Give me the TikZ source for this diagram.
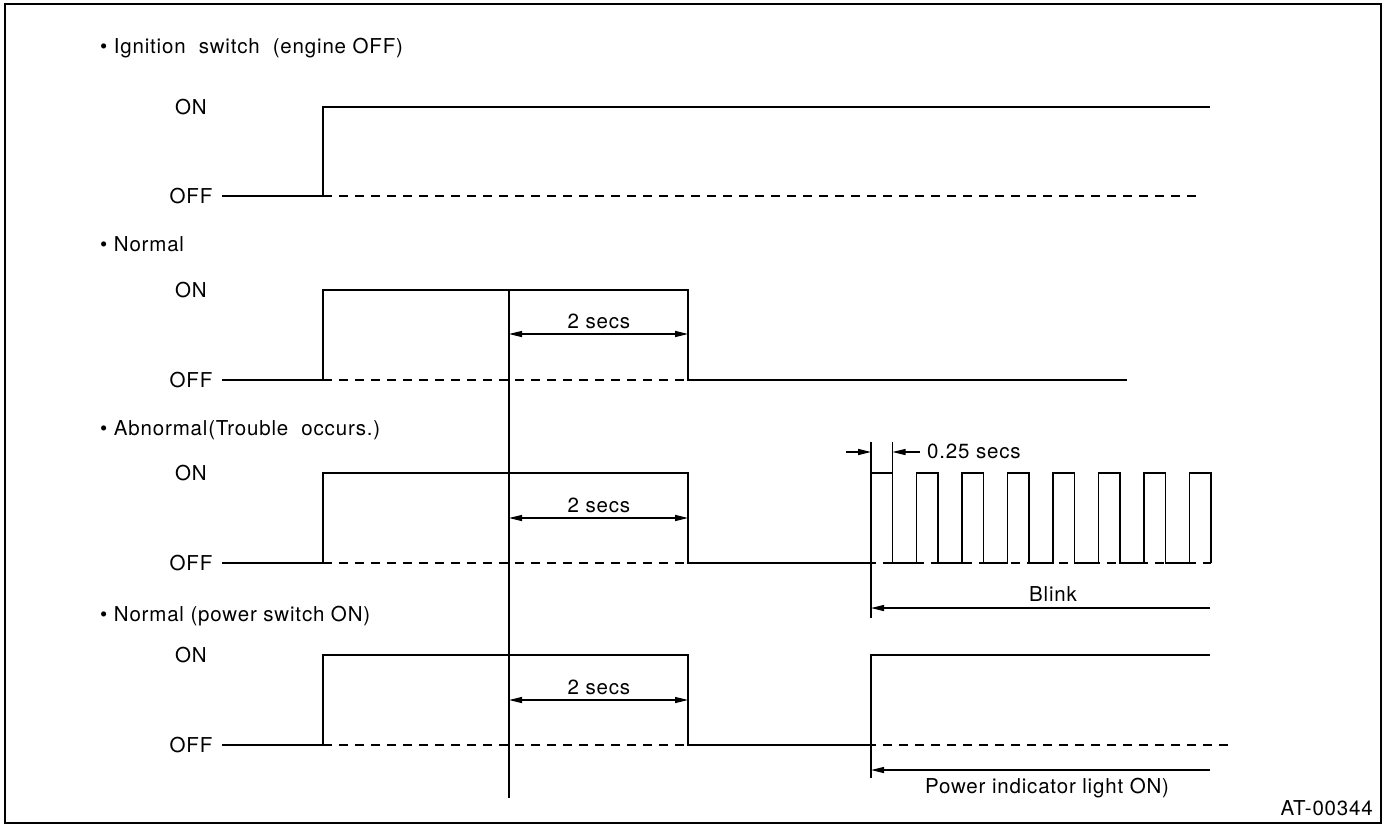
\documentclass[tikz,border=0pt]{standalone}
\usepackage{fontspec}
\setmainfont{TeX Gyre Heros}[LetterSpace=4]
\usetikzlibrary{arrows.meta}
\begin{document}
\begin{tikzpicture}[x=1pt,y=-1pt,
  every node/.style={inner sep=0pt, font=\fontsize{20.5}{24}\selectfont},
  wave/.style={line width=1.3pt, line join=miter},
  ref/.style={line width=1.3pt, dash pattern=on 9pt off 7pt},
  guide/.style={line width=1.3pt},
  dim/.style={line width=1.3pt, -{Triangle[length=13pt,width=6pt]}},
  dimboth/.style={line width=1.3pt, {Triangle[length=13pt,width=6pt]}-{Triangle[length=13pt,width=6pt]}},
  title/.style={anchor=west},
  lvl/.style={anchor=center}
]
\useasboundingbox (0,0) rectangle (1385,825);
\draw[line width=1.5pt] (5,4) rectangle (1381,823);

% ---------- Ignition switch ----------
\node[title] (t1) at (100,48) {• Ignition\ \ switch\ \ (engine OFF)};
\node[lvl] (on1) at (191,107) {ON};
\node[lvl] (off1) at (191,196) {OFF};
\coordinate (a1) at (222,196);
\coordinate (b1) at (323,196);
\coordinate (c1) at (323,107);
\coordinate (d1) at (1210,107);
\coordinate (e1) at (1203,196);
\draw[wave] (a1) -- (b1) -- (c1) -- (d1);
\draw[ref] (b1) -- (e1);

% ---------- Normal ----------
\node[title] (t2) at (100,244) {• Normal};
\node[lvl] (on2) at (191,290) {ON};
\node[lvl] (off2) at (191,380) {OFF};
\coordinate (a2) at (222,380);
\coordinate (b2) at (323,380);
\coordinate (c2) at (323,290);
\coordinate (d2) at (688,290);
\coordinate (f2) at (688,380);
\coordinate (g2) at (1127,380);
\draw[wave] (a2) -- (b2) -- (c2) -- (d2) -- (f2) -- (g2);
\draw[ref] (b2) -- (f2);
\coordinate (m2) at (509,334);
\coordinate (n2) at (688,334);
\draw[dimboth] (m2) -- (n2);
\node (s2) at (599,321) {2 secs};

% main vertical guide
\coordinate (vtop) at (509,290);
\coordinate (vbot) at (509,798);
\draw[guide] (vtop) -- (vbot);

% ---------- Abnormal ----------
\node[title] (t3) at (100,430) {• Abnormal(Trouble\ \ occurs.)};
\node[lvl] (on3) at (191,473) {ON};
\node[lvl] (off3) at (191,563) {OFF};
\coordinate (a3) at (222,563);
\coordinate (b3) at (323,563);
\coordinate (c3) at (323,473);
\coordinate (d3) at (688,473);
\coordinate (f3) at (688,563);
\coordinate (g3) at (871,563);
\coordinate (z3) at (1211,563);
\draw[wave] (a3) -- (b3) -- (c3) -- (d3) -- (f3) -- (g3)
  \foreach \k in {0,...,7} {
    -- ({871+45.5*\k},563) -- ({871+45.5*\k},473) -- ({892.5+45.5*\k},473) -- ({892.5+45.5*\k},563)
  };
\draw[ref] (b3) -- (z3);
\coordinate (m3) at (509,518);
\coordinate (n3) at (688,518);
\draw[dimboth] (m3) -- (n3);
\node (s3) at (599,505) {2 secs};
% 0.25 secs
\coordinate (p3top) at (871,442);
\coordinate (p3bot) at (871,618);
\coordinate (q3top) at (892.5,442);
\coordinate (q3bot) at (892.5,473);
\draw[guide] (p3top) -- (p3bot);
\draw[guide] (q3top) -- (q3bot);
\coordinate (r3a) at (846,452);
\coordinate (r3b) at (871,452);
\coordinate (r3c) at (920,452);
\coordinate (r3d) at (892.5,452);
\draw[dim] (r3a) -- (r3b);
\draw[dim] (r3c) -- (r3d);
\node[anchor=west] (q3) at (927,451) {0.25 secs};
% Blink
\coordinate (bk1) at (1210,608);
\coordinate (bk2) at (871,608);
\draw[dim] (bk1) -- (bk2);
\node (blink) at (1053,594) {Blink};

% ---------- Normal (power switch ON) ----------
\node[title] (t4) at (100,616) {• Normal (power switch ON)};
\node[lvl] (on4) at (191,655) {ON};
\node[lvl] (off4) at (191,745) {OFF};
\coordinate (a4) at (222,745);
\coordinate (b4) at (323,745);
\coordinate (c4) at (323,655);
\coordinate (d4) at (688,655);
\coordinate (f4) at (688,745);
\coordinate (g4) at (871,745);
\coordinate (h4) at (871,655);
\coordinate (i4) at (1210,655);
\coordinate (z4) at (1228,745);
\draw[wave] (a4) -- (b4) -- (c4) -- (d4) -- (f4) -- (g4) -- (h4) -- (i4);
\draw[ref] (b4) -- (z4);
\coordinate (g4b) at (871,778);
\draw[guide] (g4) -- (g4b);
\coordinate (m4) at (509,700);
\coordinate (n4) at (688,700);
\draw[dimboth] (m4) -- (n4);
\node (s4) at (599,687) {2 secs};
\coordinate (pw1) at (1210,770);
\coordinate (pw2) at (871,770);
\draw[dim] (pw1) -- (pw2);
\node (pwr) at (1047,788) {Power indicator light ON)};

\node[anchor=east] (code) at (1373,808) {AT-00344};
\end{tikzpicture}
\end{document}
